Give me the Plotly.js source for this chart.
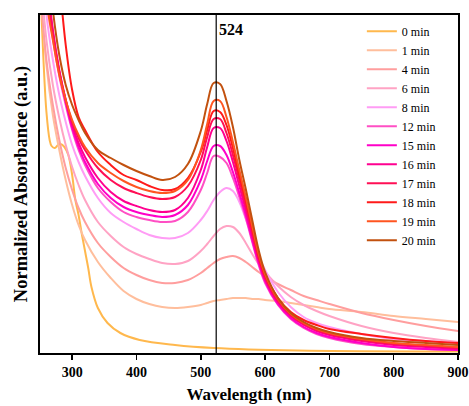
<!DOCTYPE html>
<html>
<head>
<meta charset="utf-8">
<script src="https://cdn.plot.ly/plotly-3.0.1.min.js"></script>
<style>html,body{margin:0;padding:0;background:#fff;}#chart{width:469px;height:406px;}</style>
</head>
<body>
<div id="chart"></div>
<script>
// Wavelength grid (nm)
const wl = [250,260,270,280,290,300,310,320,340,360,380,400,420,440,460,480,500,510,520,530,540,550,560,570,580,590,600,620,640,660,680,700,750,800,850,900];
const wl0 = [250,255,260,265,268,273,278,282,288,294,300,305,310,315,320,325,330,340,355,375,405,460,520,650,900];

// Normalized absorbance per reaction time
const a0  = [3.73,2.98,2.41,2.13,2.07,2.05,2.08,2.09,2.06,1.98,1.78,1.53,1.38,1.19,1.02,0.85,0.66,0.45,0.30,0.20,0.13,0.08,0.05,0.025,0.015];
const a1  = [3.73,2.88,2.38,2.03,1.73,1.48,1.28,1.13,0.91,0.75,0.62,0.54,0.49,0.46,0.45,0.46,0.48,0.50,0.52,0.53,0.54,0.55,0.55,0.55,0.54,0.54,0.53,0.52,0.50,0.48,0.46,0.44,0.41,0.37,0.34,0.31];
const a4  = [3.63,2.93,2.48,2.13,1.85,1.63,1.45,1.31,1.10,0.96,0.85,0.78,0.73,0.70,0.70,0.73,0.80,0.85,0.90,0.94,0.96,0.97,0.95,0.91,0.86,0.81,0.77,0.69,0.63,0.57,0.53,0.49,0.40,0.33,0.27,0.22];
const a6  = [3.83,3.13,2.68,2.35,2.08,1.86,1.68,1.53,1.31,1.17,1.06,0.99,0.94,0.90,0.89,0.92,1.02,1.09,1.17,1.24,1.27,1.26,1.20,1.10,0.99,0.89,0.81,0.67,0.56,0.48,0.42,0.37,0.27,0.20,0.15,0.11];
const a8  = [4.13,3.38,2.93,2.58,2.31,2.08,1.91,1.77,1.55,1.40,1.31,1.24,1.18,1.15,1.15,1.20,1.33,1.42,1.53,1.61,1.65,1.62,1.51,1.34,1.15,0.97,0.83,0.61,0.46,0.36,0.30,0.26,0.19,0.14,0.12,0.10];
const a12 = [4.63,3.68,3.15,2.77,2.48,2.23,2.03,1.88,1.65,1.51,1.41,1.36,1.33,1.31,1.32,1.41,1.63,1.80,1.97,1.96,1.90,1.75,1.56,1.35,1.11,0.88,0.70,0.48,0.34,0.25,0.19,0.15,0.09,0.06,0.04,0.03];
const a15 = [4.73,3.78,3.21,2.81,2.51,2.25,2.06,1.91,1.69,1.55,1.46,1.41,1.38,1.36,1.38,1.48,1.73,1.92,2.07,2.07,1.98,1.81,1.60,1.38,1.13,0.90,0.72,0.49,0.35,0.26,0.20,0.16,0.10,0.06,0.04,0.03];
const a16 = [4.83,3.83,3.23,2.83,2.53,2.28,2.10,1.96,1.75,1.61,1.52,1.47,1.43,1.41,1.43,1.55,1.83,2.06,2.25,2.25,2.12,1.91,1.67,1.43,1.17,0.93,0.74,0.51,0.37,0.28,0.22,0.18,0.12,0.08,0.06,0.04];
const a17 = [4.73,3.73,3.18,2.81,2.53,2.31,2.15,2.03,1.85,1.73,1.65,1.60,1.56,1.54,1.56,1.67,1.93,2.16,2.34,2.34,2.20,1.98,1.73,1.48,1.21,0.95,0.76,0.52,0.38,0.29,0.23,0.19,0.13,0.09,0.07,0.05];
const a18 = [6.03,5.23,4.43,3.73,3.08,2.63,2.36,2.23,2.01,1.88,1.78,1.73,1.67,1.63,1.64,1.75,2.01,2.23,2.42,2.41,2.28,2.05,1.78,1.53,1.25,0.98,0.78,0.55,0.41,0.33,0.28,0.24,0.19,0.15,0.12,0.10];
const a19 = [4.53,3.53,3.13,2.78,2.53,2.33,2.18,2.06,1.90,1.80,1.72,1.66,1.62,1.60,1.62,1.73,2.03,2.29,2.52,2.52,2.36,2.11,1.83,1.56,1.27,0.99,0.79,0.54,0.39,0.30,0.24,0.20,0.14,0.10,0.08,0.06];
const a20 = [5.03,4.13,3.43,2.98,2.68,2.48,2.33,2.20,2.03,1.95,1.88,1.82,1.77,1.73,1.76,1.89,2.22,2.49,2.70,2.69,2.52,2.26,1.93,1.64,1.33,1.03,0.81,0.55,0.40,0.31,0.25,0.21,0.15,0.12,0.10,0.08];

const labels = ['0 min','1 min','4 min','6 min','8 min','12 min','15 min','16 min','17 min','18 min','19 min','20 min'];
const series = [a0,a1,a4,a6,a8,a12,a15,a16,a17,a18,a19,a20];
const colors = ['#FFB84D','#FFBE9C','#FF9E9E','#FFA3C4','#FF9CF5','#FF4FC4','#FF00C8','#FF0090','#FF0F55','#FF1A1A','#FF5520','#C2510F'];

const peakWl = 524;

const traces = series.map((ys, i) => ({
  type: 'scatter', mode: 'lines',
  x: i === 0 ? wl0 : wl, y: ys, name: labels[i],
  line: {color: colors[i], width: 2, shape: 'spline', smoothing: 1}
}));

const serif = 'Liberation Serif, Times New Roman, serif';
const layout = {
  width: 469, height: 406,
  margin: {l: 40, r: 11, t: 15, b: 53},
  paper_bgcolor: '#fff', plot_bgcolor: '#fff',
  showlegend: true,
  legend: {x: 0.77, y: 0.995, xanchor: 'left', yanchor: 'top', bgcolor: 'rgba(0,0,0,0)',
           font: {family: serif, size: 12, color: '#000'}, tracegroupgap: 0},
  xaxis: {range: [250, 900], tickvals: [300,400,500,600,700,800,900], ticks: 'outside', ticklen: 5, tickwidth: 1.5, tickcolor: '#000',
          showline: true, linecolor: '#000', linewidth: 2, mirror: true, showgrid: false, zeroline: false,
          tickfont: {family: serif, size: 14, weight: 'bold', color: '#000'},
          title: {text: 'Wavelength (nm)', font: {family: serif, size: 17, weight: 'bold', color: '#000'}, standoff: 9}},
  yaxis: {range: [0, 3.38], showticklabels: false, ticks: '', showline: true, linecolor: '#000', linewidth: 2, mirror: true,
          showgrid: false, zeroline: false,
          title: {text: 'Normalized Absorbance (a.u.)', font: {family: serif, size: 18.5, weight: 'bold', color: '#000'}, standoff: 6}},
  shapes: [{type: 'line', xref: 'x', yref: 'paper', x0: peakWl, x1: peakWl, y0: 0, y1: 1, line: {color: '#000', width: 1.2}}],
  annotations: [{x: peakWl, xref: 'x', y: 0.956, yref: 'paper', yanchor: 'middle', text: '<b>524</b>', showarrow: false, xanchor: 'left', xshift: 1,
                 font: {family: serif, size: 16, color: '#000'}}]
};
Plotly.newPlot('chart', traces, layout, {displayModeBar: false, staticPlot: true});
</script>
</body>
</html>
